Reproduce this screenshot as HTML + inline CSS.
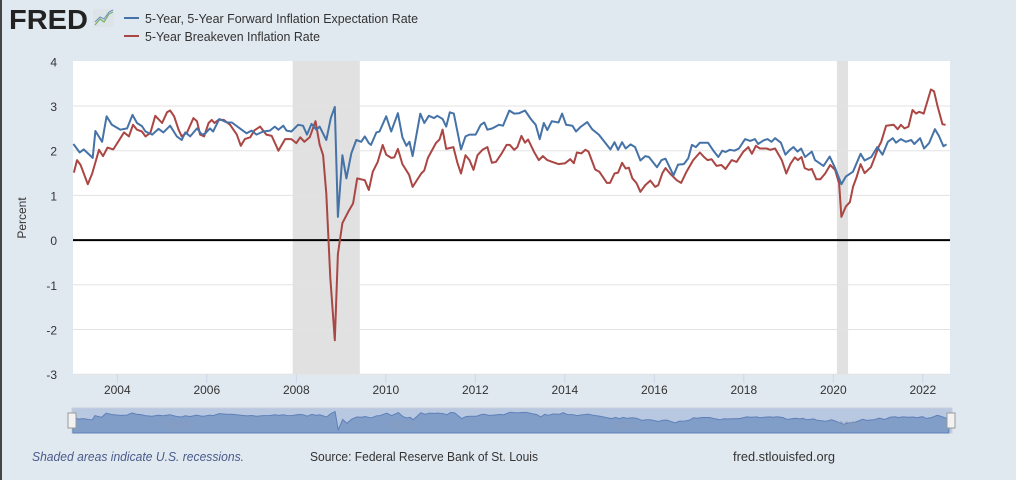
<!DOCTYPE html>
<html><head><meta charset="utf-8"><style>
html,body{margin:0;padding:0;}
body{width:1016px;height:480px;background:#e1e9f0;font-family:"Liberation Sans",sans-serif;position:relative;overflow:hidden;}
</style></head><body>
<svg width="1016" height="480" style="position:absolute;left:0;top:0" xmlns="http://www.w3.org/2000/svg">
<rect x="0" y="0" width="2" height="480" fill="#444"/>
<g>
<text x="9" y="29" font-family="Liberation Sans" font-weight="bold" font-size="28" fill="#222" textLength="79" lengthAdjust="spacingAndGlyphs">FRED</text>
<rect x="93" y="9" width="21" height="18" fill="#dde4e8"/>
<polyline points="95,25 100,19 104,22 109,14 113,12" fill="none" stroke="#7ab06a" stroke-width="1.2"/>
<polyline points="95,22 100,17 104,19 109,12 113,10" fill="none" stroke="#6a8fc0" stroke-width="1"/>
</g>
<g>
<line x1="124" y1="18" x2="139" y2="18" stroke="#4572a7" stroke-width="2"/>
<text x="145" y="23" font-size="13" fill="#333" textLength="273" lengthAdjust="spacingAndGlyphs">5-Year, 5-Year Forward Inflation Expectation Rate</text>
<line x1="124" y1="36" x2="139" y2="36" stroke="#aa4643" stroke-width="2"/>
<text x="145" y="41" font-size="13" fill="#333" textLength="175" lengthAdjust="spacingAndGlyphs">5-Year Breakeven Inflation Rate</text>
</g>
<rect x="73" y="61" width="877" height="313" fill="#fff"/>
<g id="rec"></g><g id="grid"></g><g id="ticks"></g>
<g id="lines"></g>
<text transform="translate(26,218) rotate(-90)" text-anchor="middle" font-size="12" fill="#333">Percent</text>
<g>
<rect x="72" y="408" width="880" height="25" fill="#b9c8e1" stroke="#ccd" stroke-width="1"/>
<path id="navarea" fill="#819ec9" stroke="#5f80b8" stroke-width="1"/>
<text x="178" y="429" font-size="11" fill="#8a9bb8" text-anchor="middle">2005</text>
<text x="402" y="429" font-size="11" fill="#8a9bb8" text-anchor="middle">2010</text>
<text x="626" y="429" font-size="11" fill="#8a9bb8" text-anchor="middle">2015</text>
<text x="850" y="429" font-size="11" fill="#8a9bb8" text-anchor="middle">2020</text>
<rect x="68" y="413" width="8" height="15" fill="#f2f2f2" stroke="#999"/>
<rect x="947" y="413" width="8" height="15" fill="#f2f2f2" stroke="#999"/>
</g>
<text x="32" y="461" font-size="13" font-style="italic" fill="#4a5a8a" textLength="212" lengthAdjust="spacingAndGlyphs">Shaded areas indicate U.S. recessions.</text>
<text x="310" y="461" font-size="13" fill="#333" textLength="228" lengthAdjust="spacingAndGlyphs">Source: Federal Reserve Bank of St. Louis</text>
<text x="733" y="461" font-size="13" fill="#333" textLength="102" lengthAdjust="spacingAndGlyphs">fred.stlouisfed.org</text>
</svg>
<script>
const yTicks=[4,3,2,1,0,-1,-2,-3];
const xTicks=[2004,2006,2008,2010,2012,2014,2016,2018,2020,2022];
const recessions=[[2007.92,2009.42],[2020.08,2020.33]];
const blueT=[2003.02,2003.16,2003.25,2003.45,2003.51,2003.66,2003.76,2003.88,2004.07,2004.22,2004.34,2004.44,2004.55,2004.63,2004.78,2004.92,2005.03,2005.18,2005.33,2005.44,2005.52,2005.63,2005.78,2005.89,2005.96,2006.07,2006.14,2006.28,2006.45,2006.56,2006.74,2006.89,2007.0,2007.11,2007.26,2007.41,2007.52,2007.6,2007.71,2007.78,2007.89,2008.04,2008.15,2008.24,2008.34,2008.45,2008.52,2008.67,2008.77,2008.86,2008.93,2009.03,2009.12,2009.23,2009.34,2009.45,2009.53,2009.62,2009.67,2009.79,2009.86,2010.01,2010.12,2010.27,2010.37,2010.46,2010.53,2010.6,2010.77,2010.86,2010.96,2011.08,2011.15,2011.27,2011.35,2011.43,2011.52,2011.68,2011.78,2011.87,2012.01,2012.12,2012.2,2012.27,2012.38,2012.53,2012.62,2012.76,2012.87,2012.98,2013.11,2013.24,2013.35,2013.44,2013.53,2013.61,2013.71,2013.86,2013.94,2014.03,2014.17,2014.25,2014.35,2014.5,2014.61,2014.76,2014.91,2015.02,2015.11,2015.19,2015.28,2015.36,2015.47,2015.57,2015.69,2015.8,2015.88,2016.06,2016.16,2016.25,2016.43,2016.53,2016.66,2016.76,2016.84,2016.93,2017.02,2017.2,2017.32,2017.43,2017.52,2017.59,2017.69,2017.79,2017.89,2018.03,2018.14,2018.25,2018.32,2018.44,2018.53,2018.62,2018.7,2018.83,2018.93,2019.03,2019.11,2019.2,2019.28,2019.37,2019.52,2019.59,2019.78,2019.92,2020.04,2020.18,2020.28,2020.44,2020.61,2020.7,2020.85,2020.98,2021.1,2021.22,2021.33,2021.4,2021.51,2021.62,2021.74,2021.81,2021.94,2022.03,2022.14,2022.27,2022.36,2022.46,2022.53];
const blueV=[2.15,1.96,2.03,1.84,2.44,2.2,2.77,2.58,2.47,2.5,2.8,2.62,2.55,2.43,2.36,2.49,2.41,2.56,2.32,2.24,2.41,2.32,2.5,2.36,2.38,2.5,2.43,2.71,2.63,2.63,2.5,2.39,2.45,2.36,2.43,2.45,2.54,2.47,2.56,2.45,2.43,2.58,2.56,2.36,2.6,2.47,2.54,2.24,2.73,2.98,0.52,1.9,1.38,1.94,2.24,2.2,2.32,2.17,2.13,2.41,2.43,2.77,2.43,2.84,2.3,2.11,2.2,1.88,2.83,2.62,2.78,2.73,2.78,2.71,2.54,2.86,2.83,2.03,2.32,2.36,2.36,2.58,2.63,2.47,2.5,2.58,2.56,2.9,2.83,2.84,2.9,2.71,2.58,2.26,2.62,2.46,2.66,2.63,2.83,2.58,2.56,2.43,2.53,2.64,2.48,2.36,2.17,2.03,2.19,2.02,2.19,2.05,2.14,2.08,1.78,1.88,1.86,1.63,1.79,1.82,1.45,1.69,1.7,1.83,2.13,2.08,2.18,2.18,2.0,1.86,2.0,1.97,2.02,2.0,2.05,2.26,2.22,2.26,2.15,2.23,2.26,2.2,2.28,2.18,1.91,2.02,2.08,1.98,2.05,1.86,1.98,1.79,1.66,1.87,1.61,1.25,1.42,1.53,1.93,1.78,1.86,2.08,1.91,2.2,2.28,2.18,2.26,2.2,2.24,2.15,2.28,2.05,2.17,2.48,2.33,2.1,2.14];
const redT=[2003.03,2003.1,2003.18,2003.34,2003.44,2003.59,2003.68,2003.78,2003.91,2004.07,2004.15,2004.26,2004.35,2004.44,2004.55,2004.63,2004.74,2004.85,2005.0,2005.11,2005.18,2005.27,2005.37,2005.44,2005.56,2005.7,2005.78,2005.85,2005.94,2006.04,2006.11,2006.17,2006.26,2006.38,2006.52,2006.67,2006.76,2006.85,2006.97,2007.06,2007.19,2007.33,2007.45,2007.6,2007.75,2007.89,2008.0,2008.09,2008.18,2008.3,2008.43,2008.52,2008.6,2008.67,2008.76,2008.86,2008.93,2009.03,2009.16,2009.27,2009.36,2009.53,2009.62,2009.71,2009.82,2009.93,2010.01,2010.12,2010.19,2010.27,2010.37,2010.52,2010.6,2010.79,2010.86,2010.94,2011.12,2011.2,2011.27,2011.35,2011.51,2011.6,2011.68,2011.78,2011.87,2011.96,2012.05,2012.16,2012.27,2012.37,2012.46,2012.59,2012.7,2012.77,2012.87,2012.94,2013.03,2013.11,2013.18,2013.31,2013.42,2013.51,2013.61,2013.72,2013.86,2014.01,2014.12,2014.2,2014.27,2014.37,2014.46,2014.53,2014.68,2014.77,2014.94,2015.01,2015.11,2015.19,2015.28,2015.36,2015.43,2015.51,2015.6,2015.69,2015.8,2015.91,2016.02,2016.09,2016.18,2016.25,2016.35,2016.5,2016.6,2016.72,2016.87,2017.02,2017.11,2017.19,2017.28,2017.39,2017.5,2017.59,2017.73,2017.84,2017.99,2018.1,2018.18,2018.27,2018.36,2018.51,2018.59,2018.7,2018.85,2018.95,2019.04,2019.14,2019.21,2019.29,2019.36,2019.45,2019.52,2019.62,2019.71,2019.82,2019.93,2020.04,2020.13,2020.18,2020.28,2020.37,2020.44,2020.52,2020.61,2020.7,2020.84,2020.93,2021.01,2021.07,2021.18,2021.35,2021.44,2021.51,2021.59,2021.68,2021.77,2021.85,2021.92,2022.02,2022.18,2022.25,2022.33,2022.44,2022.51];
const redV=[1.51,1.79,1.68,1.25,1.49,2.02,1.88,2.07,2.03,2.28,2.41,2.32,2.58,2.47,2.43,2.32,2.4,2.78,2.62,2.86,2.9,2.77,2.47,2.32,2.41,2.73,2.66,2.36,2.32,2.62,2.69,2.62,2.69,2.69,2.58,2.36,2.11,2.26,2.3,2.45,2.54,2.36,2.33,2.0,2.26,2.26,2.17,2.3,2.2,2.3,2.66,2.14,1.9,1.04,-0.84,-2.24,-0.31,0.38,0.63,0.82,1.38,1.34,1.12,1.53,1.75,2.13,1.91,1.84,1.85,2.04,1.7,1.46,1.19,1.49,1.56,1.84,2.17,2.25,2.47,2.04,2.08,1.73,1.49,1.9,1.79,1.57,1.9,2.02,2.08,1.73,1.75,1.94,2.13,2.13,2.02,2.08,2.33,2.18,2.25,1.98,1.79,1.88,1.79,1.75,1.7,1.72,1.81,1.72,1.96,1.94,2.02,1.98,1.58,1.53,1.28,1.28,1.49,1.51,1.73,1.6,1.62,1.38,1.28,1.08,1.23,1.33,1.19,1.23,1.5,1.61,1.49,1.34,1.28,1.53,1.79,1.96,1.86,1.79,1.81,1.66,1.68,1.59,1.79,1.75,1.98,2.08,1.93,2.11,2.05,2.05,2.02,2.05,1.79,1.49,1.7,1.85,1.79,1.86,1.61,1.57,1.59,1.36,1.36,1.49,1.68,1.57,1.27,0.52,0.75,0.85,1.19,1.41,1.7,1.5,1.63,1.86,2.08,2.2,2.56,2.58,2.48,2.58,2.5,2.54,2.91,2.83,2.87,2.83,3.37,3.33,2.99,2.59,2.58];

const NS="http://www.w3.org/2000/svg";
function xS(t){return 117.3+(t-2004)*44.75;}
function yS(v){return 61.3+(4-v)*44.7;}
function nx(t){return 72+(t-2003)*(880/19.6);}
function ny(v){return 432-(v-0.2)/(3.2-0.2)*22;}
function mk(tag,attrs,parent){const e=document.createElementNS(NS,tag);for(const k in attrs)e.setAttribute(k,attrs[k]);document.getElementById(parent).appendChild(e);return e;}

recessions.forEach(r=>{
  const e=mk('rect',{x:xS(r[0]),y:61,width:xS(r[1])-xS(r[0]),height:313,fill:'#e1e1e1'},'rec');
  
  
});
yTicks.forEach(v=>{
  if(v!==0&&v!==4){
    const l=mk('line',{x1:73,x2:950,y1:yS(v),y2:yS(v),stroke:'#e3e3e3','stroke-width':1},'grid');
    
    
  }
  const t=mk('text',{x:57,y:yS(v)+5,'text-anchor':'end','font-size':12,fill:'#333'},'ticks');
  
  
  t.textContent=v;
});
xTicks.forEach(y=>{
  const l=mk('line',{x1:xS(y),x2:xS(y),y1:374,y2:383,stroke:'#ccd6eb'},'ticks');
  
  
  const t=mk('text',{x:xS(y),y:394,'text-anchor':'middle','font-size':12,fill:'#333'},'ticks');
  
  
  t.textContent=y;
});
const zl=mk('line',{x1:73,x2:950,y1:yS(0),y2:yS(0),stroke:'#000','stroke-width':2},'lines');


function series(T,V,color,name){
  const p=T.map((t,i)=>xS(t).toFixed(1)+','+yS(V[i]).toFixed(1)).join(' ');
  const e=mk('polyline',{points:p,fill:'none',stroke:color,'stroke-width':2,'stroke-linejoin':'round'},'lines');
  
  
}
series(redT,redV,'#aa4643','series-breakeven');
series(blueT,blueV,'#4572a7','series-5y5y');
let d='M'+nx(blueT[0])+',433 '+blueT.map((t,i)=>'L'+nx(t).toFixed(1)+','+ny(blueV[i]).toFixed(1)).join(' ')+' L'+nx(blueT[blueT.length-1])+',433 Z';
document.getElementById('navarea').setAttribute('d',d);
</script>
</body></html>
